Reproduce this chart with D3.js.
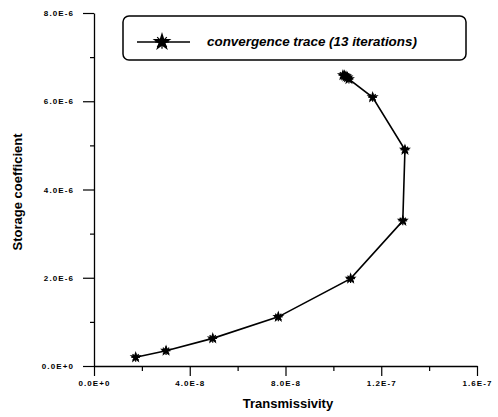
<!DOCTYPE html>
<html><head><meta charset="utf-8">
<script src="https://cdn.jsdelivr.net/npm/d3@7"></script>
<style>body{margin:0;background:#fff}svg{display:block}</style>
</head><body>
<script>
const transmissivity = [1.74e-8, 3.01e-8, 4.96e-8, 7.70e-8, 1.072e-7, 1.290e-7, 1.299e-7, 1.164e-7, 1.065e-7, 1.059e-7, 1.053e-7, 1.047e-7, 1.040e-7];
const storage = [1.97e-7, 3.46e-7, 6.26e-7, 1.114e-6, 1.98e-6, 3.29e-6, 4.90e-6, 6.09e-6, 6.50e-6, 6.54e-6, 6.56e-6, 6.58e-6, 6.59e-6];
const xTicks = [0, 4e-8, 8e-8, 1.2e-7, 1.6e-7];
const xTickLabels = ["0.0E+0", "4.0E-8", "8.0E-8", "1.2E-7", "1.6E-7"];
const xMinor = [2e-8, 6e-8, 1e-7, 1.4e-7];
const yTicks = [0, 2e-6, 4e-6, 6e-6, 8e-6];
const yTickLabels = ["0.0E+0", "2.0E-6", "4.0E-6", "6.0E-6", "8.0E-6"];
const yMinor = [1e-6, 3e-6, 5e-6, 7e-6];
const seriesName = "convergence trace (13 iterations)";
const xTitle = "Transmissivity", yTitle = "Storage coefficient";

const W = 498, H = 417;
const svg = d3.select("body").append("svg").attr("width", W).attr("height", H);
const x = d3.scaleLinear().domain([0, 1.6e-7]).range([94, 477]);
const y = d3.scaleLinear().domain([0, 8e-6]).range([366, 13]);
const font = "Arial, 'Liberation Sans', sans-serif";

function styleAxis(g){
  g.selectAll("path.domain").attr("stroke","#000").attr("stroke-width",1.3);
  g.selectAll(".tick line").attr("stroke","#000").attr("stroke-width",1.2);
  g.selectAll("text").attr("font-family",font).attr("font-weight","bold")
   .attr("font-size","8px").attr("letter-spacing","1.1px").attr("fill","#000");
}
svg.append("g").attr("transform",`translate(0,${y(0)})`)
  .call(d3.axisBottom(x).tickValues(xMinor).tickSize(5).tickFormat("").tickSizeOuter(0))
  .call(g=>{g.select(".domain").remove(); styleAxis(g);});
svg.append("g").attr("transform",`translate(${x(0)},0)`)
  .call(d3.axisLeft(y).tickValues(yMinor).tickSize(4).tickFormat("").tickSizeOuter(0))
  .call(g=>{g.select(".domain").remove(); styleAxis(g);});
svg.append("g").attr("transform",`translate(0,${y(0)})`)
  .call(d3.axisBottom(x).tickValues(xTicks).tickSize(10).tickPadding(4).tickSizeOuter(0)
    .tickFormat((d,i)=>xTickLabels[i]))
  .call(styleAxis);
svg.append("g").attr("transform",`translate(${x(0)},0)`)
  .call(d3.axisLeft(y).tickValues(yTicks).tickSize(11).tickPadding(9).tickSizeOuter(0)
    .tickFormat((d,i)=>yTickLabels[i]))
  .call(styleAxis);

svg.append("text").attr("x", 288).attr("y", 408).attr("text-anchor","middle")
  .attr("font-family",font).attr("font-weight","bold").attr("font-size","13px").text(xTitle);
svg.append("text").attr("transform","translate(22,192) rotate(-90)").attr("text-anchor","middle")
  .attr("font-family",font).attr("font-weight","bold").attr("font-size","13px").text(yTitle);

const pts = transmissivity.map((t,i)=>[t, storage[i]]);
svg.append("path").datum(pts)
  .attr("d", d3.line().x(d=>x(d[0])).y(d=>y(d[1])))
  .attr("fill","none").attr("stroke","#000").attr("stroke-width",1.6);

function star(g, size){
  g.append("path").attr("d", d3.symbol().type(d3.symbolStar).size(size)())
   .attr("fill","#000");
  const r = Math.sqrt(size)*0.65;
  for (let a=0;a<4;a++){
    const ang = a*Math.PI/4;
    g.append("line").attr("x1",-r*Math.cos(ang)).attr("y1",-r*Math.sin(ang))
      .attr("x2",r*Math.cos(ang)).attr("y2",r*Math.sin(ang))
      .attr("stroke","#000").attr("stroke-width",1.2);
  }
}
pts.forEach(d=>{
  const g = svg.append("g").attr("transform",`translate(${x(d[0])},${y(d[1])})`);
  star(g, 45);
});

svg.append("rect").attr("x",123).attr("y",16).attr("width",343).attr("height",44)
  .attr("rx",6).attr("fill","#fff").attr("stroke","#000").attr("stroke-width",1.5);
svg.append("line").attr("x1",137).attr("x2",190).attr("y1",42).attr("y2",42)
  .attr("stroke","#000").attr("stroke-width",1.4);
star(svg.append("g").attr("transform","translate(162,42)"), 110);
svg.append("text").attr("x",207).attr("y",46).attr("font-family",font)
  .attr("font-weight","bold").attr("font-style","italic").attr("font-size","13.4px").text(seriesName);
</script>
</body></html>
